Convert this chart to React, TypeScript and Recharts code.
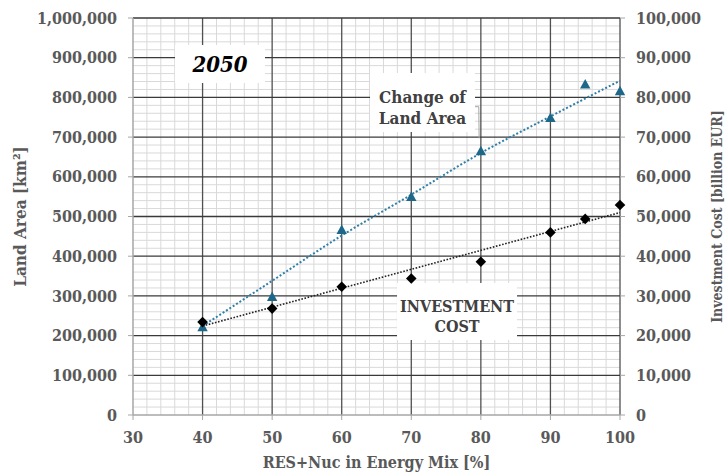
import React from "react";
import {
  ComposedChart,
  XAxis,
  YAxis,
  Scatter,
  Line,
  ReferenceLine,
  ReferenceArea,
} from "recharts";

// RES+Nuc share in the energy mix [%]
const mixPct = [40, 50, 60, 70, 80, 90, 95, 100];
// change of land area [km2] (left axis)
const landArea = [222000, 298000, 467000, 550000, 665000, 749000, 833000, 816000];
// investment cost [billion EUR] (right axis)
const investCost = [23400, 26800, 32300, 34400, 38600, 46000, 49400, 52900];

// trendlines
const landTrendPct = [40, 50, 60, 70, 80, 90, 100];
const landTrend = [224000, 338000, 452000, 555000, 660000, 752000, 842000];
const costTrendPct = [40, 100];
const costTrend = [22400, 51000];

const xTicks = [30, 40, 50, 60, 70, 80, 90, 100];
const landTicks = [0, 100000, 200000, 300000, 400000, 500000, 600000, 700000, 800000, 900000, 1000000];
const costTicks = [0, 10000, 20000, 30000, 40000, 50000, 60000, 70000, 80000, 90000, 100000];

const minorX = xTicks.slice(0, -1).flatMap((t) => [2, 4, 6, 8].map((d) => t + d));
const minorY = landTicks.slice(0, -1).flatMap((t) => [20000, 40000, 60000, 80000].map((d) => t + d));

const landPoints = mixPct.map((x, i) => ({ x, v: landArea[i] }));
const costPoints = mixPct.map((x, i) => ({ x, v: investCost[i] }));
const landTrendPoints = landTrendPct.map((x, i) => ({ x, v: landTrend[i] }));
const costTrendPoints = costTrendPct.map((x, i) => ({ x, v: costTrend[i] }));

const FONT = "'DejaVu Serif Condensed', 'DejaVu Serif', serif";
const GREY = "#595959";
const BLUE = "#1d6888";

const tickStyle = {
  fill: GREY,
  fontSize: 16,
  fontWeight: 700,
  fontFamily: FONT,
  fontStretch: "condensed",
};

const titleStyle = {
  fill: GREY,
  fontSize: 16,
  fontWeight: 700,
  fontFamily: FONT,
  fontStretch: "condensed",
};

const Triangle = (props: any) => {
  const { cx, cy } = props;
  return (
    <polygon
      points={`${cx},${cy - 5.2} ${cx + 5.2},${cy + 4.3} ${cx - 5.2},${cy + 4.3}`}
      fill={BLUE}
    />
  );
};

const Diamond = (props: any) => {
  const { cx, cy } = props;
  return (
    <polygon
      points={`${cx},${cy - 5.3} ${cx + 5.3},${cy} ${cx},${cy + 5.3} ${cx - 5.3},${cy}`}
      fill="#000"
    />
  );
};

const BoxLabel = (props: any) => {
  const { viewBox, lines, offsets, size, color, italic } = props;
  const cx = viewBox.x + viewBox.width / 2;
  return (
    <text
      textAnchor="middle"
      fill={color}
      style={{
        fontFamily: FONT,
        fontStretch: "condensed",
        fontWeight: 700,
        fontStyle: italic ? "italic" : "normal",
        fontSize: size,
      }}
    >
      {lines.map((l: string, i: number) => (
        <tspan key={l} x={cx} y={viewBox.y + offsets[i]}>
          {l}
        </tspan>
      ))}
    </text>
  );
};

export default function App() {
  return (
    <div style={{ position: "absolute", left: 0, top: 0, background: "#fff" }}>
      <ComposedChart
        width={727}
        height={473}
        margin={{ top: 18, right: 0, bottom: 0, left: 0 }}
      >
        <XAxis
          dataKey="x"
          type="number"
          domain={[30, 100]}
          ticks={xTicks}
          interval={0}
          height={58}
          tickSize={5}
          tickMargin={12}
          tick={tickStyle}
          axisLine={{ stroke: "#a6a6a6", strokeWidth: 1.5 }}
          tickLine={{ stroke: "#a6a6a6" }}
          label={{
            value: "RES+Nuc in Energy Mix [%]",
            position: "insideBottom",
            offset: 5,
            style: titleStyle,
          }}
        />
        <YAxis
          yAxisId="land"
          orientation="left"
          type="number"
          domain={[0, 1000000]}
          ticks={landTicks}
          interval={0}
          width={133}
          tickSize={5}
          tickMargin={11}
          tick={tickStyle}
          tickFormatter={(v: number) => v.toLocaleString("en-US")}
          axisLine={{ stroke: "#a6a6a6", strokeWidth: 1.5 }}
          tickLine={{ stroke: "#a6a6a6" }}
          label={{
            value: "Land Area [km²]",
            angle: -90,
            position: "insideLeft",
            offset: 20,
            style: { ...titleStyle, textAnchor: "middle", fontSize: 17 },
          }}
        />
        <YAxis
          yAxisId="cost"
          orientation="right"
          type="number"
          domain={[0, 100000]}
          ticks={costTicks}
          interval={0}
          width={107}
          tickSize={5}
          tickMargin={11}
          tick={{ ...tickStyle, textAnchor: "start" }}
          tickFormatter={(v: number) => v.toLocaleString("en-US")}
          axisLine={false}
          tickLine={{ stroke: "#a6a6a6" }}
          label={{
            value: "Investment Cost [billion EUR]",
            angle: -90,
            position: "insideRight",
            offset: 10,
            style: { ...titleStyle, textAnchor: "middle", fontSize: 14 },
          }}
        />

        {minorX.map((v) => (
          <ReferenceLine key={`mx${v}`} x={v} yAxisId="land" stroke="#d9d9d9" strokeWidth={1} zIndex={50} />
        ))}
        {minorY.map((v) => (
          <ReferenceLine key={`my${v}`} y={v} yAxisId="land" stroke="#d9d9d9" strokeWidth={1} zIndex={50} />
        ))}
        {xTicks.slice(1).map((v) => (
          <ReferenceLine key={`Mx${v}`} x={v} yAxisId="land" stroke="#505050" strokeWidth={1.3} zIndex={60} />
        ))}
        {landTicks.slice(1).map((v) => (
          <ReferenceLine key={`My${v}`} y={v} yAxisId="land" stroke="#3a3a3a" strokeWidth={1.3} zIndex={60} />
        ))}

        <ReferenceArea
          yAxisId="land"
          x1={36.04}
          x2={48.97}
          y1={836000}
          y2={932000}
          fill="#fff"
          fillOpacity={1}
          stroke="none"
          zIndex={100}
          label={<BoxLabel lines={["2050"]} offsets={[27]} size={22} color="#000" italic />}
        />
        <ReferenceArea
          yAxisId="land"
          x1={64.07}
          x2={79.16}
          y1={712800}
          y2={861500}
          fill="#fff"
          fillOpacity={1}
          stroke="none"
          zIndex={100}
          label={<BoxLabel lines={["Change of", "Land Area"]} offsets={[30, 51]} size={17} color="#404040" />}
        />
        <ReferenceLine
          yAxisId="land"
          segment={[
            { x: 79.16, y: 776600 },
            { x: 79.7, y: 776600 },
          ]}
          stroke="#a6a6a6"
          zIndex={110}
        />
        <ReferenceLine
          yAxisId="land"
          segment={[
            { x: 79.7, y: 776600 },
            { x: 79.75, y: 697000 },
          ]}
          stroke="#a6a6a6"
          zIndex={110}
        />
        <ReferenceArea
          yAxisId="land"
          x1={67.95}
          x2={85.2}
          y1={188900}
          y2={332500}
          fill="#fff"
          fillOpacity={1}
          stroke="none"
          zIndex={100}
          label={<BoxLabel lines={["INVESTMENT", "COST"]} offsets={[29, 49]} size={16} color="#404040" />}
        />

        <Line
          data={landTrendPoints}
          dataKey="v"
          yAxisId="land"
          type="monotone"
          stroke="#2f7fa8"
          strokeWidth={2}
          strokeDasharray="2 2"
          dot={false}
          isAnimationActive={false}
        />
        <Line
          data={costTrendPoints}
          dataKey="v"
          yAxisId="cost"
          type="linear"
          stroke="#222"
          strokeWidth={1.6}
          strokeDasharray="1.6 1.6"
          dot={false}
          isAnimationActive={false}
        />
        <Scatter
          data={landPoints}
          dataKey="v"
          yAxisId="land"
          shape={Triangle}
          isAnimationActive={false}
        />
        <Scatter
          data={costPoints}
          dataKey="v"
          yAxisId="cost"
          shape={Diamond}
          isAnimationActive={false}
        />
      </ComposedChart>
    </div>
  );
}
